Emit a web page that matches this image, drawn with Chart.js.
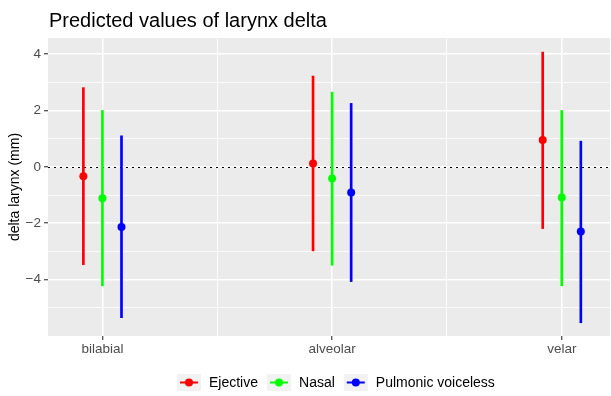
<!DOCTYPE html>
<html>
<head>
<meta charset="utf-8">
<script src="https://cdn.jsdelivr.net/npm/chart.js@4.4.1/dist/chart.umd.min.js"></script>
<style>
  html, body { margin: 0; padding: 0; background: #ffffff; overflow: hidden; }
  #wrap { width: 611px; height: 396px; overflow: hidden; }
</style>
</head>
<body>
<div id="wrap"><canvas id="c" width="614" height="396"></canvas></div>
<script>
// ---- data ----
const categories = ['bilabial', 'alveolar', 'velar'];
const seriesNames = ['Ejective', 'Nasal', 'Pulmonic voiceless'];
const seriesColors = ['#FF0000', '#00FF00', '#0000FF'];
const dodgeOffsets = [-0.083, 0, 0.083];

const ejectiveEst  = [-0.33, 0.12, 0.95];
const ejectiveLow  = [-3.47, -2.98, -2.19];
const ejectiveHigh = [2.81, 3.22, 4.07];

const nasalEst  = [-1.11, -0.41, -1.09];
const nasalLow  = [-4.22, -3.49, -4.22];
const nasalHigh = [2.00, 2.65, 2.00];

const pulmonicEst  = [-2.13, -0.91, -2.29];
const pulmonicLow  = [-5.35, -4.07, -5.53];
const pulmonicHigh = [1.10, 2.25, 0.91];

const yTickValues = [-4, -2, 0, 2, 4];
const yMinorValues = [-5, -3, -1, 1, 3];
const xBreaks = [1, 2, 3];
const xMinorBreaks = [1.5, 2.5];
const titleText = 'Predicted values of larynx delta';
const yTitle = 'delta larynx (mm)';

// ---- build datasets ----
const estimates = [ejectiveEst, nasalEst, pulmonicEst];
const lows = [ejectiveLow, nasalLow, pulmonicLow];
const highs = [ejectiveHigh, nasalHigh, pulmonicHigh];

const datasets = [];
seriesNames.forEach((name, s) => {
  datasets.push({
    type: 'bar',
    label: name + ' CI',
    data: categories.map((c, i) => ({ x: i + 1 + dodgeOffsets[s], y: [lows[s][i], highs[s][i]] })),
    backgroundColor: seriesColors[s],
    borderWidth: 0,
    barThickness: 2,
    grouped: false,
    order: 2
  });
});
seriesNames.forEach((name, s) => {
  datasets.push({
    type: 'scatter',
    label: name,
    data: categories.map((c, i) => ({ x: i + 1 + dodgeOffsets[s], y: estimates[s][i] })),
    backgroundColor: seriesColors[s],
    borderWidth: 0,
    pointRadius: 4,
    pointHoverRadius: 4,
    order: 1
  });
});

const FONT = "'Liberation Sans', Arial, Helvetica, sans-serif";

const panelBg = {
  id: 'panelBg',
  beforeDraw(chart) {
    const { ctx, chartArea: a } = chart;
    ctx.save();
    ctx.fillStyle = '#EBEBEB';
    ctx.fillRect(a.left, a.top, a.right - a.left, a.bottom - a.top);
    ctx.restore();
  }
};

const zeroLine = {
  id: 'zeroLine',
  beforeDatasetsDraw(chart) {
    const { ctx, chartArea: a, scales } = chart;
    const y = Math.round(scales.y.getPixelForValue(0)) + 0.5;
    ctx.save();
    ctx.strokeStyle = '#000000';
    ctx.lineWidth = 1.2;
    ctx.setLineDash([2, 4]);
    ctx.beginPath();
    ctx.moveTo(a.left, y);
    ctx.lineTo(a.right, y);
    ctx.stroke();
    ctx.restore();
  }
};

const titleAndLegend = {
  id: 'titleAndLegend',
  afterDraw(chart) {
    const { ctx, chartArea: a } = chart;
    ctx.save();
    ctx.fillStyle = '#000000';
    ctx.font = '20px ' + FONT;
    ctx.textBaseline = 'alphabetic';
    ctx.textAlign = 'left';
    ctx.fillText(titleText, a.left + 1, 27);

    // legend
    ctx.font = '14px ' + FONT;
    const keyW = 24, keyH = 17, gap = 8, spacing = 9;
    const cy = 382.5;
    let x = 177;
    seriesNames.forEach((name, s) => {
      ctx.fillStyle = '#F2F2F2';
      ctx.fillRect(x, cy - keyH / 2, keyW, keyH);
      ctx.strokeStyle = seriesColors[s];
      ctx.lineWidth = 2;
      ctx.beginPath();
      ctx.moveTo(x + 3, cy);
      ctx.lineTo(x + keyW - 3, cy);
      ctx.stroke();
      ctx.fillStyle = seriesColors[s];
      ctx.beginPath();
      ctx.arc(x + keyW / 2, cy, 4, 0, Math.PI * 2);
      ctx.fill();
      ctx.fillStyle = '#000000';
      ctx.textBaseline = 'middle';
      ctx.fillText(name, x + keyW + gap, cy + 1);
      x += keyW + gap + ctx.measureText(name).width + spacing;
    });
    ctx.restore();
  }
};

new Chart(document.getElementById('c'), {
  type: 'bar',
  data: { datasets },
  options: {
    responsive: false,
    animation: false,
    devicePixelRatio: 1,
    layout: { padding: { top: 38, right: 1, bottom: 40, left: 0 } },
    plugins: {
      legend: { display: false },
      title: { display: false },
      tooltip: { enabled: false }
    },
    scales: {
      x: {
        type: 'linear',
        min: 0.763,
        max: 3.21,
        offset: false,
        afterBuildTicks(scale) {
          scale.ticks = xBreaks.concat(xMinorBreaks).sort((p, q) => p - q).map(v => ({ value: v }));
        },
        afterFit(scale) {
          scale.height = 20;
          scale.paddingLeft = 0;
          scale.paddingRight = 0;
        },
        border: { display: false },
        grid: {
          offset: false,
          color: '#FFFFFF',
          lineWidth: (c) => (c.tick && Number.isInteger(c.tick.value)) ? 1.5 : 0.8,
          drawTicks: true,
          tickLength: 4,
          tickWidth: 1.1,
          tickColor: (c) => (c.tick && Number.isInteger(c.tick.value)) ? '#333333' : 'rgba(0,0,0,0)'
        },
        ticks: {
          autoSkip: false,
          maxRotation: 0,
          padding: 1,
          color: '#4D4D4D',
          font: { family: FONT, size: 13.5 },
          callback: (v) => Number.isInteger(v) ? categories[v - 1] : ''
        }
      },
      y: {
        type: 'linear',
        min: -6.0,
        max: 4.57,
        afterBuildTicks(scale) {
          scale.ticks = yTickValues.concat(yMinorValues).sort((p, q) => p - q).map(v => ({ value: v }));
        },
        afterFit(scale) { scale.width = 48; },
        border: { display: false },
        grid: {
          color: '#FFFFFF',
          lineWidth: (c) => (c.tick && yTickValues.includes(c.tick.value)) ? 1.5 : 0.8,
          drawTicks: true,
          tickLength: 4,
          tickWidth: 1.1,
          tickColor: (c) => (c.tick && yTickValues.includes(c.tick.value)) ? '#333333' : 'rgba(0,0,0,0)'
        },
        ticks: {
          padding: 3,
          color: '#4D4D4D',
          font: { family: FONT, size: 13.5 },
          callback: (v) => yTickValues.includes(v) ? String(v).replace('-', '\u2212') : ''
        },
        title: {
          display: true,
          text: yTitle,
          color: '#000000',
          font: { family: FONT, size: 14 },
          padding: { top: 7, bottom: 0 }
        }
      }
    }
  },
  plugins: [panelBg, zeroLine, titleAndLegend]
});
</script>
</body>
</html>
